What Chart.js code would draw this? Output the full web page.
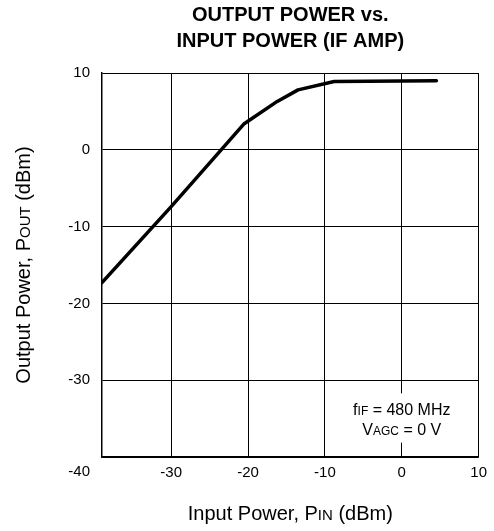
<!DOCTYPE html>
<html lang="en">
<head>
    <meta charset="UTF-8">
    <title>Output Power vs. Input Power (IF AMP)</title>
    <script src="https://cdn.jsdelivr.net/npm/chart.js@4.4.1/dist/chart.umd.min.js"></script>
    <style>
        html, body { margin: 0; padding: 0; background: #fff; }
        #wrap { width: 494px; height: 531px; }
    </style>
</head>
<body>
    <div id="wrap"><canvas id="chart"></canvas></div>
    <script>
        // values
        const inputPower = [-39, -30, -23.5, -20.5, -16.2, -13.5, -8.8, 0, 4.5];
        const outputPower = [-17.3, -7.4, 0, 3.4, 6.3, 7.8, 8.9, 8.95, 9.0];

        const xTicks = [-30, -20, -10, 0, 10];
        const xRange = [-39, 10];
        const yRange = [-40, 10];

        const titleLines = ['OUTPUT POWER vs.', 'INPUT POWER (IF AMP)'];
        // [text, small?] runs, the small parts are the subscript-like caps
        const xTitle = [['Input Power, P', false], ['IN', true], [' (dBm)', false]];
        const yTitle = [['Output Power, P', false], ['OUT', true], [' (dBm)', false]];
        const noteLines = [
            { y: -33.8, runs: [['f', false], ['IF', true], [' = 480 MHz', false]] },
            { y: -36.3, runs: [['V', false], ['AGC', true], [' = 0 V', false]] }
        ];
        const noteX = 0;

        const FONT = "'Liberation Sans', Arial, sans-serif";

        function drawRuns(ctx, runs, cx, y, size, small) {
            let total = 0;
            runs.forEach(r => {
                ctx.font = (r[1] ? small : size) + 'px ' + FONT;
                total += ctx.measureText(r[0]).width;
            });
            let x = cx - total / 2;
            ctx.textAlign = 'left';
            ctx.textBaseline = 'alphabetic';
            runs.forEach(r => {
                ctx.font = (r[1] ? small : size) + 'px ' + FONT;
                ctx.fillText(r[0], x, y);
                x += ctx.measureText(r[0]).width;
            });
            return total;
        }

        const textPlugin = {
            id: 'sheetText',
            afterDraw(chart) {
                const ctx = chart.ctx;
                const area = chart.chartArea;
                const xs = chart.scales.x;
                const ys = chart.scales.y;
                const cx = (area.left + area.right) / 2;
                ctx.save();
                ctx.fillStyle = '#000';

                // title, centred over the plot
                ctx.font = 'bold 20px ' + FONT;
                ctx.textAlign = 'center';
                ctx.textBaseline = 'alphabetic';
                ctx.fillText(titleLines[0], cx, 21);
                ctx.fillText(titleLines[1], cx, 47);

                // axis titles
                drawRuns(ctx, xTitle, cx, 520, 20, 15);
                ctx.save();
                ctx.translate(30, (area.top + area.bottom) / 2);
                ctx.rotate(-Math.PI / 2);
                drawRuns(ctx, yTitle, 0, 0, 20, 15);
                ctx.restore();

                // shared corner label
                ctx.font = '15px ' + FONT;
                ctx.textAlign = 'right';
                ctx.textBaseline = 'middle';
                ctx.fillText(String(yRange[0]), area.left - 12, area.bottom + 15);

                // note box over the 0 dBm grid line
                const nx = xs.getPixelForValue(noteX);
                const y1 = ys.getPixelForValue(noteLines[0].y);
                const y2 = ys.getPixelForValue(noteLines[1].y);
                ctx.fillStyle = '#fff';
                ctx.fillRect(nx - 50, y1 - 16, 100, y2 - y1 + 30);
                ctx.fillStyle = '#000';
                noteLines.forEach(l => {
                    drawRuns(ctx, l.runs, nx, ys.getPixelForValue(l.y) + 6, 16, 12);
                });
                ctx.restore();
            }
        };

        const ctx = document.getElementById('chart').getContext('2d');
        const chart = new Chart(ctx, {
            type: 'line',
            data: {
                datasets: [{
                    data: inputPower.map((v, i) => ({ x: v, y: outputPower[i] })),
                    borderColor: '#000',
                    borderWidth: 3.5,
                    pointRadius: 0,
                    tension: 0,
                    borderJoinStyle: 'round',
                    borderCapStyle: 'round',
                    fill: false
                }]
            },
            options: {
                responsive: true,
                maintainAspectRatio: false,
                animation: false,
                layout: {
                    padding: { top: 73, left: 42, right: 10, bottom: 44 }
                },
                plugins: {
                    legend: { display: false },
                    tooltip: { enabled: false },
                    title: { display: false }
                },
                scales: {
                    x: {
                        type: 'linear',
                        min: xRange[0],
                        max: xRange[1],
                        afterBuildTicks: scale => {
                            scale.ticks = xTicks.map(v => ({ value: v }));
                        },
                        afterFit: scale => { scale.height = 30; },
                        grid: { color: '#000', lineWidth: 1, drawTicks: false },
                        border: { color: '#000', width: 1.5 },
                        ticks: {
                            color: '#000',
                            padding: 7,
                            maxRotation: 0,
                            font: { family: FONT, size: 15 }
                        }
                    },
                    y: {
                        min: yRange[0],
                        max: yRange[1],
                        afterFit: scale => { scale.width = 60; },
                        grid: { color: '#000', lineWidth: 1, drawTicks: false },
                        border: { color: '#000', width: 1.5 },
                        ticks: {
                            stepSize: 10,
                            color: '#000',
                            padding: 12,
                            font: { family: FONT, size: 15 },
                            callback: v => (v === yRange[0] ? '' : v)
                        }
                    }
                }
            },
            plugins: [textPlugin]
        });
    </script>
</body>
</html>
